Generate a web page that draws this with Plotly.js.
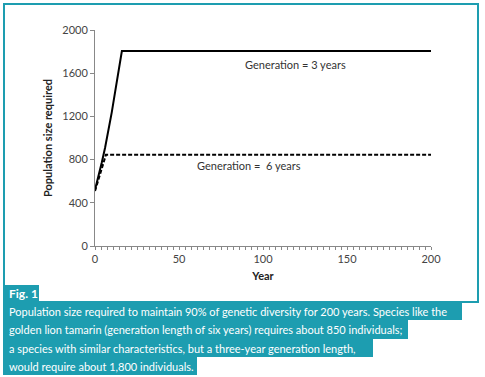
<!DOCTYPE html>
<html>
<head>
<meta charset="utf-8">
<script src="https://cdn.plot.ly/plotly-3.0.1.min.js"></script>
<style>
html,body{margin:0;padding:0;background:#fff;}
#chart{width:485px;height:377px;}
</style>
</head>
<body>
<div id="chart"></div>
<script>
// Data
const years3 = [0, 2, 4, 6, 8, 10, 12, 14, 16, 200];
const pop3   = [520, 640, 770, 910, 1070, 1240, 1430, 1640, 1805, 1805];
const years6 = [0, 2, 4, 6.5, 200];
const pop6   = [510, 620, 730, 845, 845];
const label3 = "Generation = 3 years";
const label6 = "Generation =  6 years";
const xTitle = "Year";
const yTitle = "Population size required";
const figLabel = "Fig. 1";
const captionLines = [
  "Population size required to maintain 90% of genetic diversity for 200 years. Species like the",
  "golden lion tamarin (generation length of six years) requires about 850 individuals;",
  "a species with similar characteristics, but a three-year generation length,",
  "would require about 1,800 individuals."
];

const W = 485, H = 377;
const M = {l: 95, r: 54, t: 30, b: 131};
const PW = W - M.l - M.r, PH = H - M.t - M.b;
const px = v => (v - M.l) / PW;
const py = v => (H - M.b - v) / PH;
const teal = "#1d9db0";
const chartFont = "Lato, 'Liberation Sans', sans-serif";

const traces = [
  {x: years3, y: pop3, mode: "lines", line: {color: "#000", width: 2}, hoverinfo: "skip"},
  {x: years6, y: pop6, mode: "lines", line: {color: "#000", width: 2, dash: "4px,2px"}, hoverinfo: "skip"}
];

const shapes = [
  {type: "rect", xref: "paper", yref: "paper", x0: px(4), x1: px(478), y0: py(302), y1: py(4),
   line: {color: teal, width: 2}, fillcolor: "rgba(0,0,0,0)", layer: "below"},
  {type: "rect", xref: "paper", yref: "paper", x0: px(3), x1: px(39), y0: py(302), y1: py(285),
   line: {width: 0}, fillcolor: teal}
];
const boxRights = [462, 408, 373, 197];
const boxTops = [302, 320, 339, 357];
const boxBottoms = [320, 339, 357, 375];
const annotations = [
  {text: label3, x: 119.5, y: 1676, xref: "x", yref: "y", showarrow: false,
   font: {family: chartFont, size: 11, color: "#333"}},
  {text: label6, x: 91.5, y: 750, xref: "x", yref: "y", showarrow: false,
   font: {family: chartFont, size: 11, color: "#333"}},
  {text: "<b>" + figLabel + "</b>", x: px(7), y: py(293.5), xref: "paper", yref: "paper",
   xanchor: "left", yanchor: "middle", showarrow: false,
   font: {family: chartFont, size: 12, color: "#fff"}}
];
captionLines.forEach((t, i) => {
  shapes.push({type: "rect", xref: "paper", yref: "paper", x0: px(3), x1: px(boxRights[i]),
    y0: py(boxBottoms[i]), y1: py(boxTops[i]), line: {width: 0}, fillcolor: teal});
  annotations.push({text: t, x: px(7), y: py((boxTops[i] + boxBottoms[i]) / 2), xref: "paper", yref: "paper",
    xanchor: "left", yanchor: "middle", showarrow: false,
    font: {family: chartFont, size: 11, color: "#fff"}});
});

const layout = {
  width: W, height: H,
  margin: M,
  paper_bgcolor: "#fff", plot_bgcolor: "#fff",
  showlegend: false,
  font: {family: chartFont, size: 11, color: "#444"},
  xaxis: {
    range: [0, 200], tickmode: "linear", tick0: 0, dtick: 50, showgrid: false, zeroline: false,
    showline: true, linecolor: "#888", linewidth: 1, ticks: "outside", ticklen: 3, tickcolor: "#888",
    minor: {tickmode: "linear", tick0: 0, dtick: 50 / 14, ticks: "outside", ticklen: 3, tickcolor: "#888", showgrid: false},
    tickfont: {family: chartFont, size: 11, color: "#444"},
    title: {text: "<b>" + xTitle + "</b>", font: {family: chartFont, size: 11, color: "#222"}, standoff: 8}
  },
  yaxis: {
    range: [0, 2000], tickmode: "linear", tick0: 0, dtick: 400, showgrid: false, zeroline: false,
    showline: true, linecolor: "#888", linewidth: 1, ticks: "outside", ticklen: 4, tickcolor: "#888",
    tickfont: {family: chartFont, size: 11, color: "#444"},
    title: {text: "<b>" + yTitle + "</b>", font: {family: chartFont, size: 11, color: "#222"}, standoff: 7}
  },
  shapes: shapes,
  annotations: annotations
};

Plotly.newPlot("chart", traces, layout, {displayModeBar: false, staticPlot: true});
</script>
</body>
</html>
